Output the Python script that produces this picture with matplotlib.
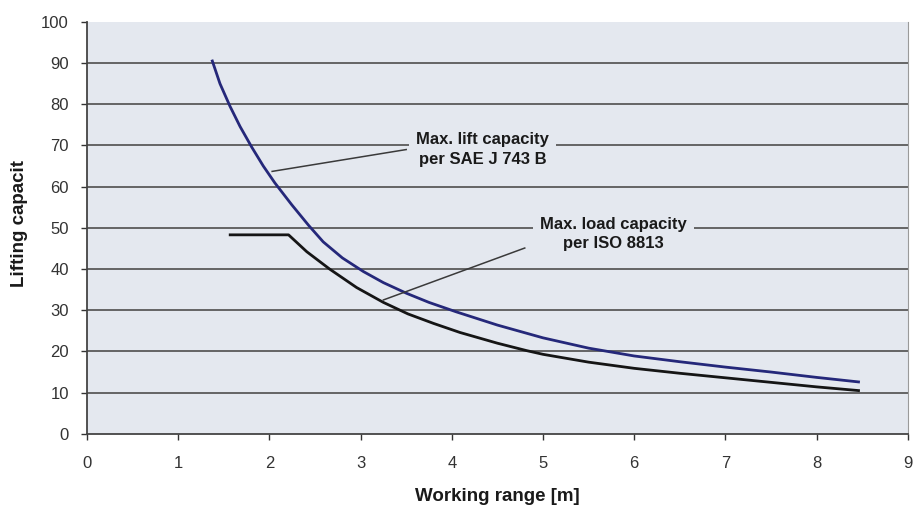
import numpy as np
import matplotlib
matplotlib.use("Agg")
import matplotlib.pyplot as plt

plt.rcParams['font.family'] = ['Liberation Sans', 'DejaVu Sans']

# ======================== DATA ============================
# Max. lift capacity per SAE J 743 B (blue curve)
lift_x = [1.374, 1.458, 1.568, 1.678, 1.806, 1.933, 2.06, 2.245, 2.43, 2.59, 2.80, 3.03, 3.25, 3.505,
          3.75, 4.05, 4.50, 5.00, 5.50, 6.00, 6.50, 7.00, 7.50, 8.00, 8.46]
lift_y = [90.5, 85.0, 79.5, 74.6, 69.6, 65.0, 60.9, 55.6, 50.6, 46.6, 42.7, 39.4, 36.7, 34.1,
          31.9, 29.6, 26.4, 23.3, 20.8, 18.9, 17.5, 16.2, 15.0, 13.7, 12.6]

# Max. load capacity per ISO 8813 (black curve)
load_x = [1.57, 2.21, 2.41, 2.66, 2.957, 3.25, 3.52, 3.80, 4.09, 4.50, 4.82, 5.00, 5.50, 6.00,
          6.50, 7.00, 7.50, 8.00, 8.46]
load_y = [48.3, 48.3, 44.2, 40.0, 35.5, 31.9, 29.1, 26.8, 24.6, 22.0, 20.2, 19.3, 17.4, 15.9,
          14.7, 13.6, 12.5, 11.4, 10.5]

x_ticks = list(range(0, 10))
y_ticks = list(range(0, 101, 10))

# ======================== PLOTTING ===================
fig = plt.figure(figsize=(9.16, 5.08), dpi=100)
ax = fig.add_axes([0.095, 0.146, 0.896, 0.811])
bg = '#e4e8ef'
ax.set_facecolor(bg)

for yv in y_ticks[1:-1]:
    ax.axhline(yv, color='#5a5a5a', lw=1.3, zorder=1)

ax.plot(lift_x, lift_y, color='#25287a', lw=2.0, zorder=3, solid_joinstyle='round')
ax.plot(load_x, load_y, color='#151515', lw=2.0, zorder=3, solid_joinstyle='round')

# leader lines
ax.plot([2.03, 3.50], [63.7, 69.0], color='#3a3a3a', lw=1.1, zorder=4)
ax.plot([3.25, 4.80], [32.5, 45.1], color='#3a3a3a', lw=1.1, zorder=4)

box = dict(facecolor=bg, edgecolor='none', pad=5)
ax.text(4.34, 69.0, "Max. lift capacity\nper SAE J 743 B", ha='center', va='center',
        fontsize=12, fontweight='bold', color='#1a1a1a', linespacing=1.35, bbox=box, zorder=5)
ax.text(5.77, 48.6, "Max. load capacity\nper ISO 8813", ha='center', va='center',
        fontsize=12, fontweight='bold', color='#1a1a1a', linespacing=1.35, bbox=box, zorder=5)

ax.set_xlim(0, 9)
ax.set_ylim(0, 100)
ax.set_xticks(x_ticks)
ax.set_yticks(y_ticks)
ax.tick_params(axis='both', labelsize=12, colors='#333333', length=4, width=1)
ax.tick_params(axis='x', pad=12)
ax.tick_params(axis='y', pad=9)

ax.spines['top'].set_visible(False)
ax.spines['right'].set_color('#9a9a9a')
ax.spines['left'].set_color('#444444')
ax.spines['bottom'].set_color('#444444')
ax.spines['left'].set_linewidth(1.3)
ax.spines['bottom'].set_linewidth(1.3)

ax.set_xlabel("Working range [m]", fontsize=13.5, fontweight='bold', color='#1a1a1a', labelpad=12)
ax.set_ylabel("Lifting capacit", fontsize=13.5, fontweight='bold', color='#1a1a1a', labelpad=8)
ax.yaxis.set_label_coords(-0.072, 0.51)

fig.savefig("out.png", dpi=100)
